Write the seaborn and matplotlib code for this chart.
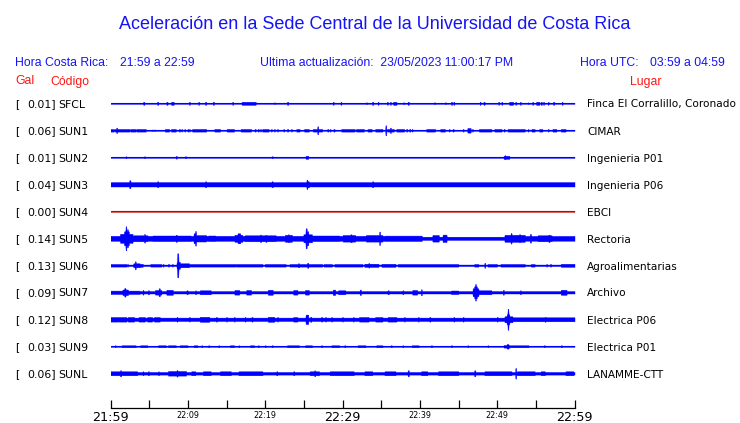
import numpy as np
import matplotlib
matplotlib.use("Agg")
import matplotlib.pyplot as plt
import seaborn as sns

# ---------------- data ----------------
codes = ["SFCL", "SUN1", "SUN2", "SUN3", "SUN4", "SUN5", "SUN6", "SUN7", "SUN8", "SUN9", "SUNL"]
gal = ["0.01", "0.06", "0.01", "0.04", "0.00", "0.14", "0.13", "0.09", "0.12", "0.03", "0.06"]
places = ["Finca El Corralillo, Coronado", "CIMAR", "Ingenieria P01", "Ingenieria P06", "EBCI",
          "Rectoria", "Agroalimentarias", "Archivo", "Electrica P06", "Electrica P01", "LANAMME-CTT"]
tick_minutes = list(range(0, 61, 5))
tick_labels = ["21:59", "", "22:09", "", "22:19", "", "22:29", "", "22:39", "", "22:49", "", "22:59"]
big_labels = ["21:59", "22:29", "22:59"]

title = "Aceleración en la Sede Central de la Universidad de Costa Rica"
hora_cr = "21:59 a 22:59"
ultima = "23/05/2023 11:00:17 PM"
hora_utc = "03:59 a 04:59"

# trace envelopes: base half-amplitude and bursts (start_min, end_min, half_amplitude)
base_amp = [0.5, 0.5, 0.5, 2.2, 0.5, 1.6, 0.7, 1.2, 1.7, 0.5, 1.3]

SFCL = [(4.3,4.3,1.5),(6.1,6.1,1.5),(7.3,7.3,1.5),(7.9,8.1,1.5),(10.2,10.2,1.5),(11.4,11.4,1.5),
        (12.3,12.3,1.5),(13.3,13.3,1.5),(15.8,15.8,1.5),(17.0,18.7,1.5),(21.2,21.2,0.9),(22.9,22.9,1.5),
        (28.8,28.8,1.5),(29.8,29.8,1.5),(33.1,33.1,0.9),(33.9,33.9,1.5),(34.6,34.6,1.5),(35.8,35.8,1.5),
        (36.2,36.2,1.5),(36.6,36.9,1.5),(37.9,37.9,0.9),(38.5,38.5,1.5),(41.9,41.9,0.9),(43.3,43.3,0.9),
        (44.1,44.1,1.5),(44.4,44.4,1.5),(47.8,47.8,1.5),(48.3,48.3,1.5),(50.2,50.2,1.5),(50.6,50.6,1.5),
        (51.6,52.0,1.5),(52.4,52.4,1.5),(53.0,53.0,1.5),(54.0,54.0,0.9),(54.6,54.6,1.5),(55.1,55.4,1.5),
        (55.7,55.7,1.5),(56.0,56.0,1.5),(56.6,56.6,1.5),(57.3,57.3,1.5),(58.4,58.4,1.5)]
SUN1 = [(0.0,0.4,1.3),(0.6,2.4,1.3),(0.8,0.8,2.7),(2.6,3.2,1.3),(3.4,4.5,1.3),(5.4,5.4,0.8),(5.7,5.7,0.8),
        (7.1,7.5,1.3),(7.9,8.4,1.3),(8.9,8.9,1.3),(9.2,9.2,1.3),(9.6,9.6,1.3),(10.0,10.0,1.3),(10.2,10.2,1.3),
        (10.6,12.3,1.3),(13.5,14.1,1.3),(15.1,15.9,1.3),(16.9,18.1,1.3),(18.7,18.7,1.3),(19.1,19.1,1.3),
        (19.4,19.4,1.3),(19.7,20.4,1.3),(20.8,20.8,1.3),(21.2,21.2,1.3),(21.6,21.6,1.3),(22.4,22.4,1.3),
        (22.9,22.9,1.3),(23.4,23.4,1.3),(24.1,24.4,1.3),(25.1,25.6,1.3),(26.2,27.3,1.3),(26.8,26.8,4.0),
        (28.1,28.1,1.3),(28.4,28.4,1.3),(28.9,28.9,1.3),(29.9,31.0,1.3),(31.1,31.5,1.3),(31.8,32.7,1.3),
        (33.3,33.7,1.3),(34.3,35.1,1.3),(35.6,35.6,5.0),(35.8,36.6,1.3),(36.2,36.2,2.7),(37.0,37.9,1.3),
        (38.3,38.3,1.3),(38.7,38.7,1.3),(39.0,39.0,1.3),(40.9,41.9,1.3),(42.7,43.2,1.3),(43.8,43.8,1.3),
        (44.3,44.3,1.3),(45.6,45.6,1.3),(46.2,46.5,2.3),(46.8,46.8,1.3),(47.7,49.2,1.3),(49.7,50.5,1.3),
        (50.9,50.9,1.3),(51.4,53.5,1.3),(54.0,54.0,1.3),(54.5,54.8,1.3),(55.5,55.8,1.3),(56.6,56.6,1.3),
        (57.2,57.6,1.3),(58.3,58.8,1.3)]
SUN2 = [(2.0,2.0,1.0),(4.4,4.4,1.0),(8.5,8.5,1.3),(9.7,9.7,1.0),(20.9,20.9,1.0),(25.3,25.5,1.5),
        (50.9,51.5,1.5),(51.0,51.0,2.0)]
SUN3 = [(2.5,2.5,4.0),(6.1,6.1,3.0),(12.3,12.3,3.0),(20.9,20.9,3.0),(25.4,25.4,4.7),(25.5,25.6,3.0),
        (33.9,33.9,3.0)]
SUN4 = []
SUN5 = [(0.0,40.2,2.5),(51.0,60.0,2.4),(1.3,2.8,4.5),(1.8,2.3,7.0),(2.0,2.0,12.0),(2.2,2.2,9.0),
        (3.0,4.7,3.0),(4.4,4.4,4.3),(5.5,10.3,2.8),(8.5,8.5,3.5),(10.8,10.9,5.0),(11.0,11.0,7.3),
        (11.1,12.3,3.2),(12.7,13.5,2.8),(16.1,17.0,3.5),(16.5,16.7,5.0),(17.4,21.3,3.0),(19.4,19.4,3.8),
        (20.1,20.1,3.5),(22.6,23.4,3.5),(23.0,23.0,4.0),(25.0,26.0,4.0),(25.3,25.3,10.0),(25.5,25.5,7.0),
        (26.0,29.5,2.8),(30.1,31.6,3.3),(31.1,31.1,4.0),(33.1,35.1,3.3),(34.8,34.8,6.7),(35.5,40.2,2.7),
        (41.7,42.4,3.3),(43.0,43.4,3.7),(51.0,53.5,3.5),(51.8,51.8,5.3),(52.9,52.9,4.0),(54.3,54.3,4.3),
        (55.3,57.0,3.0),(56.7,56.7,3.7)]
SUN6 = [(0.0,2.0,1.3),(2.2,2.2,1.3),(3.0,3.7,2.0),(3.2,3.2,4.0),(3.7,4.1,1.5),(5.2,6.5,1.3),(6.8,6.8,1.3),
        (7.5,7.5,1.3),(8.0,8.0,1.3),(8.6,8.9,3.5),(8.7,8.7,12.0),(8.9,10.1,2.0),(10.3,16.1,1.3),
        (16.3,19.6,1.3),(20.0,22.6,1.3),(23.2,27.3,1.3),(24.3,24.3,2.0),(25.5,25.5,2.5),(27.6,28.6,1.3),
        (29.0,32.5,1.3),(32.9,34.6,1.6),(33.4,33.4,2.3),(35.1,36.8,1.5),(37.2,44.9,1.3),(47.1,47.5,1.3),
        (48.4,48.4,2.5),(48.8,49.9,1.3),(50.5,53.5,1.3),(54.4,54.8,1.3),(56.4,56.4,1.3),(56.9,56.9,1.3),
        (58.3,60.0,1.5)]
SUN7 = [(0.0,3.7,1.7),(1.85,1.85,4.3),(1.6,2.2,2.8),(4.2,4.2,2.3),(4.9,4.9,2.0),(5.8,6.5,2.3),(6.3,6.3,4.0),
        (7.3,8.0,2.5),(9.9,9.9,2.0),(11.0,11.0,2.0),(11.6,12.9,2.0),(16.1,16.6,2.3),(17.6,18.1,2.3),
        (20.4,20.9,2.5),(23.7,24.1,2.3),(25.2,25.6,2.3),(28.8,29.0,2.7),(29.5,30.3,2.0),(32.3,32.3,2.7),
        (35.9,35.9,2.0),(37.8,37.8,2.0),(39.1,39.6,2.3),(40.2,40.2,3.0),(44.1,44.9,1.8),(46.9,47.5,4.0),
        (47.1,47.3,6.0),(47.2,47.2,8.3),(47.5,49.2,2.0),(50.8,50.8,2.5),(53.0,53.0,2.0),(58.3,58.9,2.5)]
SUN8 = [(0.0,0.9,2.3),(1.1,2.0,2.3),(2.3,3.0,2.3),(3.7,4.4,2.3),(4.8,5.3,2.3),(5.7,6.3,2.3),(8.6,8.6,2.3),
        (10.2,10.2,2.3),(11.6,12.7,2.5),(13.7,13.7,2.3),(15.0,15.0,2.3),(16.0,16.0,2.3),(17.4,17.4,2.3),
        (18.3,18.3,2.3),(20.4,21.1,2.5),(21.6,21.6,2.3),(23.7,24.1,2.3),(25.3,25.5,4.7),(25.9,25.9,2.5),
        (27.3,27.3,2.3),(27.8,27.8,2.3),(28.6,28.6,2.3),(30.0,30.0,2.3),(31.4,31.4,2.3),(32.2,33.3,2.3),
        (34.3,35.1,2.3),(35.9,36.9,2.3),(38.0,38.0,2.3),(39.8,39.8,2.3),(41.3,41.3,2.3),(44.4,44.4,2.3),
        (45.6,45.6,2.3),(50.0,50.0,2.3),(51.0,51.9,3.0),(51.3,51.5,5.0),(51.4,51.4,10.5),(52.0,60.0,2.0),
        (56.2,56.2,2.5)]
SUN9 = [(0.6,0.6,1.0),(1.5,3.2,1.0),(3.9,4.7,1.0),(6.2,7.1,1.0),(7.5,8.4,1.0),(9.0,9.9,1.0),(10.8,11.2,1.0),
        (11.8,11.8,1.0),(12.7,12.7,1.0),(14.0,14.0,1.0),(15.5,15.9,1.0),(16.6,16.6,1.0),(18.1,18.5,1.0),
        (19.1,19.1,1.0),(20.0,20.0,1.0),(20.9,20.9,1.0),(22.9,24.3,1.0),(25.2,26.0,1.0),(27.3,27.3,1.0),
        (28.6,29.5,1.0),(30.3,30.3,1.0),(32.0,32.9,1.0),(34.4,35.1,1.0),(36.3,36.3,1.0),(37.8,37.8,1.0),
        (39.0,39.8,1.0),(41.5,41.5,1.0),(44.1,44.1,1.0),(46.2,46.2,1.0),(48.8,48.8,1.0),(50.9,51.6,1.3),
        (51.3,51.4,2.3),(51.8,54.0,1.0),(56.1,56.1,1.0),(58.3,58.3,1.0)]
SUNL = [(0.0,3.4,2.0),(1.3,1.3,3.0),(4.2,4.2,2.0),(4.9,4.9,2.0),(6.2,6.2,2.0),(7.5,9.7,2.3),(8.6,8.6,3.3),
        (10.5,10.9,2.0),(12.0,12.9,2.0),(14.2,15.5,2.0),(16.6,19.6,2.0),(21.5,21.5,2.0),(23.7,23.7,2.0),
        (25.8,26.9,2.0),(26.4,26.4,3.0),(28.4,31.4,2.0),(32.9,33.8,2.0),(35.5,36.8,2.0),(38.5,38.5,3.0),
        (40.2,40.9,2.0),(42.4,44.9,2.0),(47.1,47.1,3.0),(48.4,51.8,2.0),(52.4,52.4,5.3),(52.6,54.8,2.0),
        (55.7,56.1,2.0),(58.9,59.8,2.0)]
bursts = [SFCL, SUN1, SUN2, SUN3, SUN4, SUN5, SUN6, SUN7, SUN8, SUN9, SUNL]

# ---------------- styling ----------------
W, H = 740, 423
sns.set_theme(style="white")
plt.rcParams["font.family"] = ["DejaVu Sans"]

BLUE = "#0000ff"
HBLUE = "#1414f5"
RED = "#ff1414"
TRACE_RED = "#cc0000"

fig = plt.figure(figsize=(W / 100, H / 100), dpi=100)
fig.patch.set_facecolor("white")

x0_px, x1_px = 110.5, 574.5
ytop_px, ybot_px = 88, 408
ax = fig.add_axes([x0_px / W, (H - ybot_px) / H, (x1_px - x0_px) / W, (ybot_px - ytop_px) / H])
ax.set_facecolor("white")
ax.set_xlim(0, 60)
ax.set_ylim(ybot_px, ytop_px)

row0, row_gap = 103.3, 27.0
t = np.linspace(0, 60, 1501)
hw = 0.07
for i, code in enumerate(codes):
    yc = row0 + row_gap * i
    env = np.full_like(t, base_amp[i])
    for s, e, a in bursts[i]:
        m = (t >= s - hw) & (t <= e + hw)
        env[m] = np.maximum(env[m], a)
    col = TRACE_RED if code == "SUN4" else BLUE
    ax.fill_between(t, yc - env, yc + env, color=col, lw=0.3, edgecolor=col)
    sns.lineplot(x=[0, 60], y=[yc, yc], ax=ax, color=col, lw=0.8)

for sp in ["left", "right", "top"]:
    ax.spines[sp].set_visible(False)
ax.spines["bottom"].set_color("black")
ax.spines["bottom"].set_linewidth(0.9)
ax.set_yticks([])
ax.set_xticks(tick_minutes)
ax.set_xticklabels(tick_labels)
ax.tick_params(axis="x", direction="in", length=5.8, width=0.9, color="black", pad=2.5,
               bottom=True, labelcolor="black")
for lab in ax.get_xticklabels():
    if lab.get_text() in big_labels:
        lab.set_fontsize(9.2)
    else:
        lab.set_fontsize(5.8)

def ftext(x, y, s, **kw):
    fig.text(x / W, 1 - y / H, s, **kw)

HF = "Liberation Sans"
ftext(375, 29, title, fontsize=13, color=HBLUE, family=HF, ha="center", va="baseline")
ftext(15, 65.5, "Hora Costa Rica:", fontsize=8.8, color=HBLUE, family=HF, va="baseline")
ftext(120, 65.5, hora_cr, fontsize=8.8, color=HBLUE, family=HF, va="baseline")
ftext(260, 65.5, "Ultima actualización:  " + ultima, fontsize=8.8, color=HBLUE, family=HF, va="baseline")
ftext(580, 65.5, "Hora UTC:", fontsize=8.8, color=HBLUE, family=HF, va="baseline")
ftext(650, 65.5, hora_utc, fontsize=8.8, color=HBLUE, family=HF, va="baseline")
ftext(15, 84.5, "Gal", fontsize=8.8, color=RED, family=HF, va="baseline")
ftext(50, 84.5, "Código", fontsize=8.8, color=RED, family=HF, va="baseline")
ftext(630, 84.5, "Lugar", fontsize=8.8, color=RED, family=HF, va="baseline")

for i, code in enumerate(codes):
    yb = row0 + row_gap * i + 4.2
    ftext(15, yb, "[", fontsize=7.8, color="black", va="baseline")
    ftext(27, yb, gal[i] + "]", fontsize=7.8, color="black", va="baseline")
    ftext(58.5, yb, code, fontsize=7.8, color="black", va="baseline")
    ftext(587, yb, places[i], fontsize=7.6, color="black", va="baseline")

fig.savefig("out.png", dpi=100)
